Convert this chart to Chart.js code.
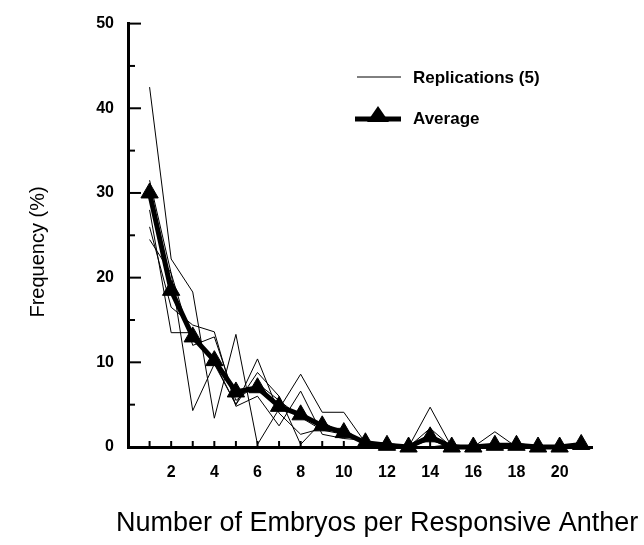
<!DOCTYPE html>
<html>
<head>
<meta charset="utf-8">
<script src="https://cdn.jsdelivr.net/npm/chart.js@4.4.0/dist/chart.umd.min.js"></script>
<style>
  html, body { margin: 0; background: #fff; }
  #wrap { width: 644px; height: 545px; }
</style>
</head>
<body>
<div id="wrap"><canvas id="embryoChart"></canvas></div>
<script>
// embryos per anther (x) and frequency (%) per replication
const embryos = [1, 2, 3, 4, 5, 6, 7, 8, 9, 10, 11, 12, 13, 14, 15, 16, 17, 18, 19, 20, 21];
const rep1 = [42.5, 22.2, 18.3, 3.4, 13.3, 0.3, 4.5, 8.6, 4.1, 4.1, 0.5, 0, 0, 4.7, 0, 0, 1.8, 0, 0, 0, 0];
const rep2 = [31.5, 20.5, 4.3, 9.8, 5.0, 10.4, 4.0, 1.5, 2.2, 2.2, 0.3, 0, 0, 2.2, 0, 0, 0, 0.3, 0, 0, 0.3];
const rep3 = [28.0, 13.5, 13.5, 10.0, 5.0, 8.8, 6.0, 0.3, 3.0, 1.5, 0.5, 0.3, 0, 0.8, 0, 0, 0, 0, 0, 0, 0];
const rep4 = [26.0, 16.5, 14.4, 13.6, 4.8, 6.0, 2.5, 6.6, 1.5, 1.0, 0.8, 0, 0, 1.5, 0, 0, 0, 0.5, 0, 0, 0.5];
const rep5 = [24.5, 20.5, 12.0, 13.0, 5.5, 7.5, 5.5, 3.5, 2.0, 1.5, 0.5, 0.5, 0, 0, 0.3, 0, 0, 0, 0, 0, 0.5];
const average = [30, 18.5, 13, 10.2, 6.5, 7, 4.8, 3.8, 2.5, 1.7, 0.5, 0.2, 0, 1.2, 0, 0, 0.2, 0.2, 0, 0, 0.3];
const yTicks = [0, 10, 20, 30, 40, 50];
const xTickLabels = [2, 4, 6, 8, 10, 12, 14, 16, 18, 20];

const FONT = "'Liberation Sans', Arial, Helvetica, sans-serif";
const pts = arr => arr.map((v, i) => ({ x: embryos[i], y: v }));

const thinLine = data => ({
    label: 'Replications (5)', data: pts(data), borderColor: '#000', borderWidth: 1,
    pointRadius: 0, tension: 0, clip: false
});

// inward ticks, legend and axis titles
const decor = {
    id: 'decor',
    afterDraw(chart) {
        const { ctx, chartArea: a, scales: { x, y } } = chart;
        ctx.save();
        ctx.strokeStyle = '#000';
        ctx.lineWidth = 2;
        for (let v = 0; v <= 50; v += 5) {
            const py = y.getPixelForValue(v);
            const len = v % 10 === 0 ? 13 : 7;
            ctx.beginPath(); ctx.moveTo(a.left, py); ctx.lineTo(a.left + len, py); ctx.stroke();
        }
        embryos.forEach(e => {
            const px = x.getPixelForValue(e);
            ctx.beginPath(); ctx.moveTo(px, a.bottom); ctx.lineTo(px, a.bottom - 6); ctx.stroke();
        });

        // legend
        ctx.fillStyle = '#000';
        ctx.font = 'bold 17px ' + FONT;
        ctx.textBaseline = 'middle';
        ctx.lineWidth = 1;
        ctx.beginPath(); ctx.moveTo(357, 77); ctx.lineTo(401, 77); ctx.stroke();
        ctx.fillText('Replications (5)', 413, 78);
        ctx.lineWidth = 5;
        ctx.beginPath(); ctx.moveTo(355, 119); ctx.lineTo(401, 119); ctx.stroke();
        ctx.beginPath(); ctx.moveTo(378, 106); ctx.lineTo(389, 122); ctx.lineTo(367, 122); ctx.closePath(); ctx.fill();
        ctx.fillText('Average', 413, 119);

        // axis titles
        ctx.font = '20px ' + FONT;
        ctx.textAlign = 'center';
        ctx.save();
        ctx.translate(38, 252);
        ctx.rotate(-Math.PI / 2);
        ctx.fillText('Frequency (%)', 0, 0);
        ctx.restore();
        ctx.font = '27px ' + FONT;
        ctx.textAlign = 'left';
        ctx.fillText('Number of Embryos per Responsive Anther', 116, 524);
        ctx.restore();
    }
};

new Chart(document.getElementById('embryoChart'), {
    type: 'line',
    data: {
        datasets: [
            thinLine(rep1), thinLine(rep2), thinLine(rep3), thinLine(rep4), thinLine(rep5),
            {
                label: 'Average', data: pts(average), borderColor: '#000', backgroundColor: '#000',
                borderWidth: 5, pointStyle: 'triangle', pointRadius: 10, pointBorderWidth: 1,
                tension: 0, clip: false
            }
        ]
    },
    plugins: [decor],
    options: {
        responsive: true,
        maintainAspectRatio: false,
        animation: false,
        layout: { padding: { top: 18, right: 52, left: 0, bottom: 0 } },
        plugins: { legend: { display: false }, tooltip: { enabled: false } },
        scales: {
            x: {
                type: 'linear', min: 0, max: 21.5,
                afterFit: s => { s.height = 98; },
                afterBuildTicks: s => { s.ticks = xTickLabels.map(v => ({ value: v })); },
                grid: { display: false, drawTicks: false },
                border: { display: true, color: '#000', width: 3 },
                ticks: { color: '#000', padding: 16, maxRotation: 0, font: { family: FONT, size: 16, weight: 'bold' } }
            },
            y: {
                min: 0, max: 50,
                afterFit: s => { s.width = 128; },
                afterBuildTicks: s => { s.ticks = yTicks.map(v => ({ value: v })); },
                grid: { display: false, drawTicks: false },
                border: { display: true, color: '#000', width: 3 },
                ticks: { color: '#000', padding: 14, font: { family: FONT, size: 16, weight: 'bold' } }
            }
        }
    }
});
</script>
</body>
</html>
